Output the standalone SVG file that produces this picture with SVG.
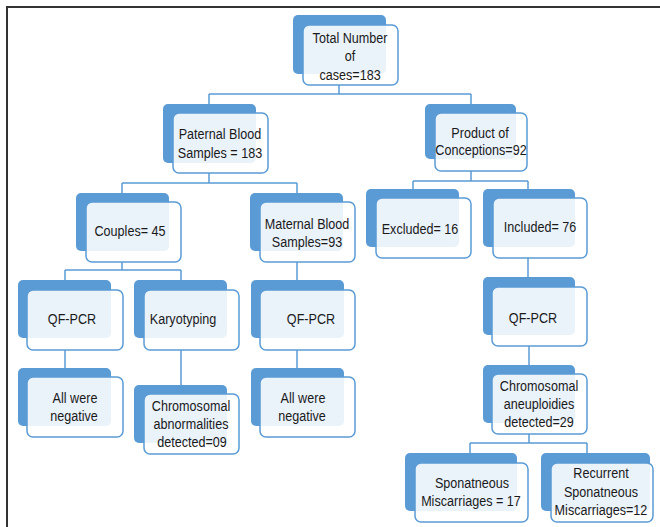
<svg xmlns="http://www.w3.org/2000/svg" width="660" height="527" viewBox="0 0 660 527">
<style>
.bk{fill:#5B9BD5}
.fr{fill:#fff;fill-opacity:0.87;stroke:#5B9BD5;stroke-width:1.5}
.cn{fill:none;stroke:#5B9BD5;stroke-width:1.5}
.frame{fill:none;stroke:#333;stroke-width:2}
text{font-family:"Liberation Sans",Arial,sans-serif;font-size:15px;fill:#1a1a1a;text-anchor:middle;transform:scaleX(0.84);transform-box:fill-box;transform-origin:center}
</style>
<rect width="660" height="527" fill="#fff"/>
<path class="frame" d="M7 527V7H660"/>
<g id="connectors" class="cn">
<path d="M339 85V94M209 94H471M209 94V104M471 94V104"/>
<path d="M209 173V183M122 183H297M122 183V193M297 183V193"/>
<path d="M471 171V181M413 181H528M413 181V189M528 181V189"/>
<path d="M122 262V270M65 270H181M65 270V280M181 270V280"/>
<path d="M297 262V280"/>
<path d="M528 258V277"/>
<path d="M65 350V368"/>
<path d="M181 350V385"/>
<path d="M297 350V368"/>
<path d="M529 346V365"/>
<path d="M529 434V443M470 443H587M470 443V453M587 443V453"/>
</g>
<g id="n-total"><rect class="bk" x="293" y="15" width="93" height="59" rx="5"/><rect class="fr" x="303" y="25" width="95" height="60" rx="6"/><text x="350" y="43">Total Number</text><text x="350" y="61">of</text><text x="350" y="80">cases=183</text></g>
<g id="n-paternal"><rect class="bk" x="163" y="104" width="93" height="59" rx="5"/><rect class="fr" x="173" y="113" width="95" height="60" rx="6"/><text x="220" y="139">Paternal Blood</text><text x="220" y="158">Samples = 183</text></g>
<g id="n-product"><rect class="bk" x="425" y="104" width="91" height="55" rx="5"/><rect class="fr" x="435" y="113" width="92" height="58" rx="6"/><text x="480" y="138">Product of</text><text x="481" y="155">Conceptions=92</text></g>
<g id="n-couples"><rect class="bk" x="76" y="193" width="93" height="58" rx="5"/><rect class="fr" x="86" y="202" width="95" height="60" rx="6"/><text x="130" y="236">Couples= 45</text></g>
<g id="n-maternal"><rect class="bk" x="250" y="193" width="93" height="58" rx="5"/><rect class="fr" x="260" y="202" width="95" height="60" rx="6"/><text x="307" y="229">Maternal Blood</text><text x="307" y="247">Samples=93</text></g>
<g id="n-excluded"><rect class="bk" x="366" y="189" width="93" height="58" rx="5"/><rect class="fr" x="376" y="198" width="95" height="60" rx="6"/><text x="420" y="234">Excluded= 16</text></g>
<g id="n-included"><rect class="bk" x="483" y="189" width="92" height="58" rx="5"/><rect class="fr" x="493" y="198" width="94" height="60" rx="6"/><text x="540" y="232">Included= 76</text></g>
<g id="n-qfpcr1"><rect class="bk" x="18" y="280" width="93" height="58" rx="5"/><rect class="fr" x="27" y="290" width="96" height="60" rx="6"/><text x="72" y="324">QF-PCR</text></g>
<g id="n-karyo"><rect class="bk" x="134" y="280" width="93" height="58" rx="5"/><rect class="fr" x="144" y="290" width="95" height="60" rx="6"/><text x="183" y="324">Karyotyping</text></g>
<g id="n-qfpcr2"><rect class="bk" x="251" y="280" width="93" height="58" rx="5"/><rect class="fr" x="260" y="290" width="95" height="60" rx="6"/><text x="311" y="324">QF-PCR</text></g>
<g id="n-neg1"><rect class="bk" x="18" y="368" width="93" height="58" rx="5"/><rect class="fr" x="27" y="377" width="96" height="60" rx="6"/><text x="75" y="403">All were</text><text x="74" y="421">negative</text></g>
<g id="n-chrom1"><rect class="bk" x="134" y="385" width="93" height="58" rx="5"/><rect class="fr" x="144" y="394" width="95" height="60" rx="6"/><text x="191" y="411">Chromosomal</text><text x="191" y="429">abnormalities</text><text x="192" y="447">detected=09</text></g>
<g id="n-neg2"><rect class="bk" x="251" y="368" width="93" height="58" rx="5"/><rect class="fr" x="260" y="377" width="95" height="60" rx="6"/><text x="303" y="403">All were</text><text x="302" y="421">negative</text></g>
<g id="n-qfpcr3"><rect class="bk" x="483" y="277" width="92" height="58" rx="5"/><rect class="fr" x="492" y="287" width="95" height="59" rx="6"/><text x="533" y="323">QF-PCR</text></g>
<g id="n-aneu"><rect class="bk" x="483" y="365" width="92" height="58" rx="5"/><rect class="fr" x="492" y="374" width="95" height="60" rx="6"/><text x="539" y="391">Chromosomal</text><text x="539" y="409">aneuploidies</text><text x="539" y="427">detected=29</text></g>
<g id="n-spon"><rect class="bk" x="405" y="453" width="112" height="58" rx="5"/><rect class="fr" x="415" y="463" width="113" height="59" rx="6"/><text x="472" y="488">Sponatneous</text><text x="471" y="506">Miscarriages = 17</text></g>
<g id="n-recur"><rect class="bk" x="541" y="453" width="109" height="58" rx="5"/><rect class="fr" x="551" y="463" width="102" height="59" rx="6"/><text x="601" y="478">Recurrent</text><text x="601" y="497">Sponatneous</text><text x="601" y="515">Miscarriages=12</text></g>
</svg>
